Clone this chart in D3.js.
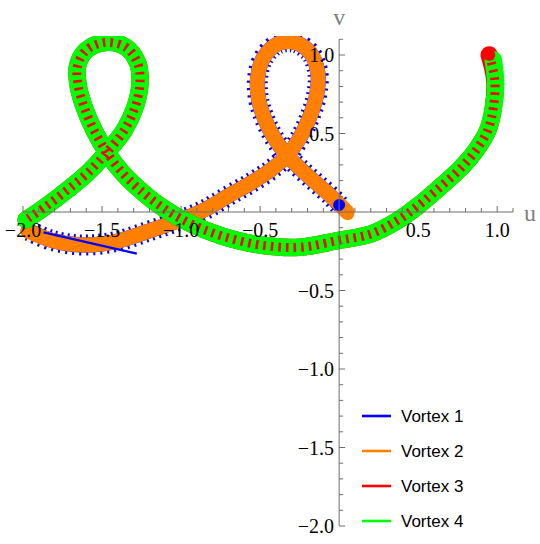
<!DOCTYPE html>
<html><head><meta charset="utf-8">
<script src="https://cdn.jsdelivr.net/npm/d3@7"></script>
<style>body{margin:0;background:#fff} svg{display:block}</style>
</head><body><svg id="c" width="540" height="544"></svg>
<script>
const seriesNames = ["Vortex 1", "Vortex 2", "Vortex 3", "Vortex 4"];
const seriesColors = ["#0000ff", "#ff8000", "#ff0000", "#00ff00"];

// Vortex 1 (blue) and 2 (orange): loop near u = -0.33
const vortex1 = [[0.0,0.045],[-0.05,0.1],[-0.14,0.18],[-0.24,0.27],[-0.33,0.36],[-0.41,0.47],[-0.47,0.59],[-0.51,0.72],[-0.515,0.86],[-0.48,0.98],[-0.39,1.07],[-0.28,1.08],[-0.18,1.01],[-0.135,0.89],[-0.14,0.76],[-0.18,0.62],[-0.25,0.47],[-0.33,0.36],[-0.43,0.27],[-0.55,0.19],[-0.69,0.11],[-0.84,0.02],[-1.0,-0.05],[-1.2,-0.12],[-1.42,-0.19],[-1.63,-0.21],[-1.82,-0.18],[-1.96,-0.12]];
const vortex1Tail = [[-1.87,-0.13],[-1.28,-0.265]];
const vortex2 = [[0.05,0.0],[-0.04,0.09],[-0.14,0.18],[-0.24,0.27],[-0.33,0.36],[-0.41,0.47],[-0.47,0.59],[-0.51,0.72],[-0.515,0.86],[-0.48,0.98],[-0.39,1.07],[-0.28,1.08],[-0.18,1.01],[-0.135,0.89],[-0.14,0.76],[-0.18,0.62],[-0.25,0.47],[-0.33,0.36],[-0.43,0.27],[-0.55,0.19],[-0.69,0.11],[-0.84,0.02],[-1.0,-0.05],[-1.2,-0.12],[-1.42,-0.19],[-1.63,-0.21],[-1.82,-0.18],[-1.97,-0.12]];

// Vortex 3 (red) and 4 (green): long arc and loop near u = -1.46
const vortex3 = [[0.95,1.0],[0.985,0.84],[0.975,0.66],[0.94,0.52],[0.87,0.40],[0.77,0.28],[0.64,0.16],[0.50,0.04],[0.36,-0.06],[0.20,-0.14],[0.0,-0.18],[-0.25,-0.225],[-0.5,-0.21],[-0.75,-0.15],[-0.95,-0.07],[-1.12,0.03],[-1.27,0.15],[-1.38,0.26],[-1.47,0.38],[-1.55,0.52],[-1.61,0.66],[-1.65,0.80],[-1.655,0.93],[-1.60,1.03],[-1.48,1.08],[-1.35,1.05],[-1.275,0.95],[-1.26,0.82],[-1.29,0.67],[-1.36,0.52],[-1.47,0.38],[-1.59,0.25],[-1.72,0.14],[-1.85,0.04],[-1.98,-0.05]];
const vortex4 = [[0.975,0.97],[0.99,0.82],[0.975,0.66],[0.94,0.52],[0.87,0.40],[0.77,0.28],[0.64,0.16],[0.50,0.04],[0.36,-0.06],[0.20,-0.14],[0.0,-0.18],[-0.25,-0.225],[-0.5,-0.21],[-0.75,-0.15],[-0.95,-0.07],[-1.12,0.03],[-1.27,0.15],[-1.38,0.26],[-1.47,0.38],[-1.55,0.52],[-1.61,0.66],[-1.65,0.80],[-1.655,0.93],[-1.60,1.03],[-1.48,1.08],[-1.35,1.05],[-1.275,0.95],[-1.26,0.82],[-1.29,0.67],[-1.36,0.52],[-1.47,0.38],[-1.59,0.25],[-1.72,0.14],[-1.85,0.04],[-1.98,-0.05]];

const startPoints = [[0.0,0.045,0],[0.055,-0.01,1],[0.95,1.0,2]];

const majorTicks = [-2.0, -1.5, -1.0, -0.5, 0.5, 1.0];
const tickLabels = ["\u22122.0", "\u22121.5", "\u22121.0", "\u22120.5", "0.5", "1.0"];
const minorTicks = d3.range(-20, 12).map(i => i / 10);
const axisLabels = ["u", "v"];

const svg = d3.select("#c");
const x = d3.scaleLinear().domain([-2, 1.1]).range([23, 513]);
const y = d3.scaleLinear().domain([-2, 1.1]).range([526, 39.3]);
const line = d3.line().x(d => x(d[0])).y(d => y(d[1])).curve(d3.curveCatmullRom.alpha(0.5));

svg.append("defs").append("clipPath").attr("id", "clip")
  .append("rect").attr("x", 5).attr("y", 36).attr("width", 530).attr("height", 500);
const g = svg.append("g").attr("clip-path", "url(#clip)");

// Vortex 1 spikes (blue) under vortex 2
g.append("path").attr("d", line(vortex1)).attr("fill", "none")
  .attr("stroke", seriesColors[0]).attr("stroke-width", 21).attr("stroke-dasharray", "2 4.6");
g.append("path").attr("d", line(vortex1)).attr("fill", "none")
  .attr("stroke", seriesColors[0]).attr("stroke-width", 15).attr("stroke-linecap", "round").attr("stroke-linejoin", "round");
// Vortex 2 band
g.append("path").attr("d", line(vortex2)).attr("fill", "none")
  .attr("stroke", seriesColors[1]).attr("stroke-width", 15).attr("stroke-linecap", "round").attr("stroke-linejoin", "round");
// Vortex 1 tail
g.append("path").attr("d", line(vortex1Tail)).attr("fill", "none")
  .attr("stroke", seriesColors[0]).attr("stroke-width", 2.2);

// Vortex 4 band, vortex 3 marks
g.append("path").attr("d", line(vortex3)).attr("fill", "none")
  .attr("stroke", seriesColors[2]).attr("stroke-width", 17.5).attr("stroke-linecap", "round").attr("stroke-linejoin", "round");
g.append("path").attr("d", line(vortex4)).attr("fill", "none")
  .attr("stroke", seriesColors[3]).attr("stroke-width", 17.5).attr("stroke-linecap", "round").attr("stroke-linejoin", "round");
g.append("path").attr("d", line(vortex3)).attr("fill", "none")
  .attr("stroke", seriesColors[2]).attr("stroke-width", 9).attr("stroke-dasharray", "2.6 5");

// start markers
g.selectAll("circle.start").data(startPoints).join("circle").attr("class", "start")
  .attr("cx", d => x(d[0])).attr("cy", d => y(d[1]))
  .attr("r", d => d[2] === 1 ? 6.5 : 6).attr("fill", d => seriesColors[d[2]]);

// axes
const axisColor = "#6e6e6e";
const ax = svg.append("g");
ax.append("line").attr("x1", x(-2)).attr("x2", x(1.1)).attr("y1", y(0)).attr("y2", y(0)).attr("stroke", axisColor);
ax.append("line").attr("x1", x(0)).attr("x2", x(0)).attr("y1", y(-2)).attr("y2", y(1.1)).attr("stroke", axisColor);
minorTicks.forEach(t => {
  const isMajor = Math.abs(t * 2 - Math.round(t * 2)) < 1e-6;
  const len = isMajor ? 6 : 4;
  if (Math.abs(t) > 1e-6) {
    ax.append("line").attr("x1", x(t)).attr("x2", x(t)).attr("y1", y(0)).attr("y2", y(0) - len).attr("stroke", axisColor);
    ax.append("line").attr("x1", x(0)).attr("x2", x(0) + len).attr("y1", y(t)).attr("y2", y(t)).attr("stroke", axisColor);
  }
});
majorTicks.forEach((t, i) => {
  ax.append("text").attr("x", x(t)).attr("y", y(0) + 25).attr("text-anchor", "middle")
    .attr("font-family", "Liberation Serif, Times New Roman, serif").attr("font-size", 20).attr("fill", "#000")
    .text(tickLabels[i]);
  ax.append("text").attr("x", x(0) - 5).attr("y", y(t) + 7).attr("text-anchor", "end")
    .attr("font-family", "Liberation Serif, Times New Roman, serif").attr("font-size", 20).attr("fill", "#000")
    .text(tickLabels[i]);
});
ax.append("text").attr("x", x(1.1) + 11).attr("y", y(0) + 9).attr("font-family", "Liberation Serif, serif")
  .attr("font-size", 24).attr("fill", "#808080").text(axisLabels[0]);
ax.append("text").attr("x", x(0)).attr("y", 25).attr("text-anchor", "middle").attr("font-family", "Liberation Serif, serif")
  .attr("font-size", 24).attr("fill", "#808080").text(axisLabels[1]);

// legend
const leg = svg.append("g");
seriesNames.forEach((n, i) => {
  const cy = 416 + i * 35;
  leg.append("line").attr("x1", 362).attr("x2", 391).attr("y1", cy).attr("y2", cy)
    .attr("stroke", seriesColors[i]).attr("stroke-width", 2.6);
  leg.append("text").attr("x", 401).attr("y", cy + 6).attr("font-family", "Liberation Sans, Arial, sans-serif")
    .attr("font-size", 17).attr("fill", "#000").text(n);
});
</script></body></html>
